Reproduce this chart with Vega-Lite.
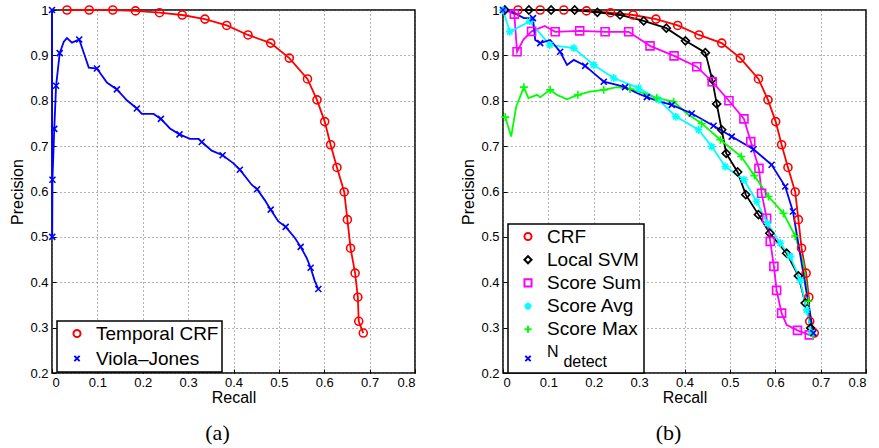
{
  "$schema": "https://vega.github.io/schema/vega-lite/v6.json",
  "background": "white",
  "padding": {"left": 9, "top": 2, "right": 5, "bottom": 5},
  "bounds": "flush",
  "spacing": 88,
  "config": {
    "font": "Liberation Sans",
    "view": {"stroke": "black", "strokeWidth": 1.5},
    "axis": {
      "labelFont": "Liberation Sans", "labelFontSize": 13, "labelColor": "black",
      "titleFont": "Liberation Sans", "titleFontSize": 16, "titleFontWeight": "normal", "titleColor": "black",
      "domain": false, "tickColor": "black", "tickSize": -4, "tickWidth": 1,
      "grid": true, "gridColor": "#666", "gridDash": [1, 3], "gridOpacity": 1, "gridWidth": 1,
      "labelPadding": 8, "titlePadding": 4
    },
    "axisX": {"titlePadding": 0, "labelPadding": 7},
    "legend": {
      "title": null, "strokeColor": "black", "fillColor": "white", "padding": 3,
      "labelFont": "Liberation Sans", "labelFontSize": 19, "labelColor": "black",
      "symbolSize": 50, "symbolStrokeWidth": 2, "labelOffset": 17, "rowPadding": 5
    },
    "title": {"font": "Liberation Serif", "fontSize": 22, "fontWeight": "normal", "color": "black", "orient": "bottom", "anchor": "middle", "dx": -16, "offset": 18}
  },
  "datasets": {
    "a": [
      {"s": "Temporal CRF", "x": 0.033, "y": 1.0, "m": 1},
      {"s": "Temporal CRF", "x": 0.082, "y": 1.0, "m": 1},
      {"s": "Temporal CRF", "x": 0.134, "y": 1.0, "m": 1},
      {"s": "Temporal CRF", "x": 0.184, "y": 0.998, "m": 1},
      {"s": "Temporal CRF", "x": 0.237, "y": 0.994, "m": 1},
      {"s": "Temporal CRF", "x": 0.287, "y": 0.989, "m": 1},
      {"s": "Temporal CRF", "x": 0.337, "y": 0.98, "m": 1},
      {"s": "Temporal CRF", "x": 0.385, "y": 0.966, "m": 1},
      {"s": "Temporal CRF", "x": 0.432, "y": 0.945, "m": 1},
      {"s": "Temporal CRF", "x": 0.482, "y": 0.927, "m": 1},
      {"s": "Temporal CRF", "x": 0.523, "y": 0.894, "m": 1},
      {"s": "Temporal CRF", "x": 0.563, "y": 0.848, "m": 1},
      {"s": "Temporal CRF", "x": 0.584, "y": 0.802, "m": 1},
      {"s": "Temporal CRF", "x": 0.601, "y": 0.754, "m": 1},
      {"s": "Temporal CRF", "x": 0.614, "y": 0.703, "m": 1},
      {"s": "Temporal CRF", "x": 0.628, "y": 0.653, "m": 1},
      {"s": "Temporal CRF", "x": 0.644, "y": 0.599, "m": 1},
      {"s": "Temporal CRF", "x": 0.651, "y": 0.538, "m": 1},
      {"s": "Temporal CRF", "x": 0.658, "y": 0.475, "m": 1},
      {"s": "Temporal CRF", "x": 0.668, "y": 0.42, "m": 1},
      {"s": "Temporal CRF", "x": 0.674, "y": 0.367, "m": 1},
      {"s": "Temporal CRF", "x": 0.676, "y": 0.314, "m": 1},
      {"s": "Temporal CRF", "x": 0.686, "y": 0.288, "m": 1},
      {"s": "Viola–Jones", "x": 0.0, "y": 1.0, "m": 1},
      {"s": "Viola–Jones", "x": 0.0005, "y": 0.5, "m": 1},
      {"s": "Viola–Jones", "x": 0.001, "y": 0.626, "m": 1},
      {"s": "Viola–Jones", "x": 0.005, "y": 0.738, "m": 1},
      {"s": "Viola–Jones", "x": 0.009, "y": 0.833, "m": 1},
      {"s": "Viola–Jones", "x": 0.017, "y": 0.905, "m": 1},
      {"s": "Viola–Jones", "x": 0.026, "y": 0.93, "m": 0},
      {"s": "Viola–Jones", "x": 0.033, "y": 0.938, "m": 0},
      {"s": "Viola–Jones", "x": 0.044, "y": 0.928, "m": 0},
      {"s": "Viola–Jones", "x": 0.06, "y": 0.935, "m": 1},
      {"s": "Viola–Jones", "x": 0.073, "y": 0.897, "m": 0},
      {"s": "Viola–Jones", "x": 0.081, "y": 0.873, "m": 0},
      {"s": "Viola–Jones", "x": 0.099, "y": 0.871, "m": 1},
      {"s": "Viola–Jones", "x": 0.121, "y": 0.84, "m": 0},
      {"s": "Viola–Jones", "x": 0.143, "y": 0.825, "m": 1},
      {"s": "Viola–Jones", "x": 0.165, "y": 0.801, "m": 0},
      {"s": "Viola–Jones", "x": 0.187, "y": 0.783, "m": 1},
      {"s": "Viola–Jones", "x": 0.198, "y": 0.771, "m": 0},
      {"s": "Viola–Jones", "x": 0.224, "y": 0.771, "m": 0},
      {"s": "Viola–Jones", "x": 0.24, "y": 0.76, "m": 1},
      {"s": "Viola–Jones", "x": 0.26, "y": 0.739, "m": 0},
      {"s": "Viola–Jones", "x": 0.281, "y": 0.726, "m": 1},
      {"s": "Viola–Jones", "x": 0.304, "y": 0.716, "m": 0},
      {"s": "Viola–Jones", "x": 0.323, "y": 0.716, "m": 0},
      {"s": "Viola–Jones", "x": 0.33, "y": 0.709, "m": 1},
      {"s": "Viola–Jones", "x": 0.352, "y": 0.69, "m": 0},
      {"s": "Viola–Jones", "x": 0.376, "y": 0.68, "m": 1},
      {"s": "Viola–Jones", "x": 0.4, "y": 0.662, "m": 0},
      {"s": "Viola–Jones", "x": 0.414, "y": 0.648, "m": 1},
      {"s": "Viola–Jones", "x": 0.44, "y": 0.615, "m": 0},
      {"s": "Viola–Jones", "x": 0.452, "y": 0.605, "m": 1},
      {"s": "Viola–Jones", "x": 0.469, "y": 0.581, "m": 0},
      {"s": "Viola–Jones", "x": 0.482, "y": 0.56, "m": 1},
      {"s": "Viola–Jones", "x": 0.499, "y": 0.534, "m": 0},
      {"s": "Viola–Jones", "x": 0.515, "y": 0.522, "m": 1},
      {"s": "Viola–Jones", "x": 0.535, "y": 0.498, "m": 0},
      {"s": "Viola–Jones", "x": 0.548, "y": 0.478, "m": 1},
      {"s": "Viola–Jones", "x": 0.561, "y": 0.454, "m": 0},
      {"s": "Viola–Jones", "x": 0.57, "y": 0.432, "m": 1},
      {"s": "Viola–Jones", "x": 0.579, "y": 0.403, "m": 0},
      {"s": "Viola–Jones", "x": 0.587, "y": 0.385, "m": 1}
    ],
    "b": [
      {"s": "CRF", "x": 0.033, "y": 1.0, "m": 1},
      {"s": "CRF", "x": 0.082, "y": 1.0, "m": 1},
      {"s": "CRF", "x": 0.134, "y": 1.0, "m": 1},
      {"s": "CRF", "x": 0.184, "y": 0.998, "m": 1},
      {"s": "CRF", "x": 0.237, "y": 0.994, "m": 1},
      {"s": "CRF", "x": 0.287, "y": 0.989, "m": 1},
      {"s": "CRF", "x": 0.337, "y": 0.98, "m": 1},
      {"s": "CRF", "x": 0.385, "y": 0.966, "m": 1},
      {"s": "CRF", "x": 0.432, "y": 0.945, "m": 1},
      {"s": "CRF", "x": 0.482, "y": 0.927, "m": 1},
      {"s": "CRF", "x": 0.523, "y": 0.894, "m": 1},
      {"s": "CRF", "x": 0.563, "y": 0.848, "m": 1},
      {"s": "CRF", "x": 0.584, "y": 0.802, "m": 1},
      {"s": "CRF", "x": 0.601, "y": 0.754, "m": 1},
      {"s": "CRF", "x": 0.614, "y": 0.703, "m": 1},
      {"s": "CRF", "x": 0.628, "y": 0.653, "m": 1},
      {"s": "CRF", "x": 0.644, "y": 0.599, "m": 1},
      {"s": "CRF", "x": 0.651, "y": 0.538, "m": 1},
      {"s": "CRF", "x": 0.658, "y": 0.475, "m": 1},
      {"s": "CRF", "x": 0.668, "y": 0.42, "m": 1},
      {"s": "CRF", "x": 0.674, "y": 0.367, "m": 1},
      {"s": "CRF", "x": 0.676, "y": 0.314, "m": 1},
      {"s": "CRF", "x": 0.686, "y": 0.288, "m": 1},
      {"s": "Local SVM", "x": 0.004, "y": 1.0, "m": 1},
      {"s": "Local SVM", "x": 0.057, "y": 1.0, "m": 1},
      {"s": "Local SVM", "x": 0.106, "y": 1.0, "m": 1},
      {"s": "Local SVM", "x": 0.158, "y": 1.0, "m": 1},
      {"s": "Local SVM", "x": 0.208, "y": 0.995, "m": 1},
      {"s": "Local SVM", "x": 0.258, "y": 0.989, "m": 1},
      {"s": "Local SVM", "x": 0.31, "y": 0.976, "m": 1},
      {"s": "Local SVM", "x": 0.36, "y": 0.96, "m": 1},
      {"s": "Local SVM", "x": 0.402, "y": 0.932, "m": 1},
      {"s": "Local SVM", "x": 0.446, "y": 0.906, "m": 1},
      {"s": "Local SVM", "x": 0.461, "y": 0.847, "m": 1},
      {"s": "Local SVM", "x": 0.471, "y": 0.793, "m": 1},
      {"s": "Local SVM", "x": 0.482, "y": 0.736, "m": 1},
      {"s": "Local SVM", "x": 0.492, "y": 0.684, "m": 1},
      {"s": "Local SVM", "x": 0.517, "y": 0.643, "m": 1},
      {"s": "Local SVM", "x": 0.535, "y": 0.593, "m": 1},
      {"s": "Local SVM", "x": 0.563, "y": 0.549, "m": 1},
      {"s": "Local SVM", "x": 0.588, "y": 0.508, "m": 1},
      {"s": "Local SVM", "x": 0.625, "y": 0.464, "m": 1},
      {"s": "Local SVM", "x": 0.651, "y": 0.414, "m": 1},
      {"s": "Local SVM", "x": 0.666, "y": 0.354, "m": 1},
      {"s": "Local SVM", "x": 0.678, "y": 0.299, "m": 1},
      {"s": "Local SVM", "x": 0.684, "y": 0.284, "m": 0},
      {"s": "Score Sum", "x": 0.004, "y": 1.0, "m": 0},
      {"s": "Score Sum", "x": 0.025, "y": 0.991, "m": 1},
      {"s": "Score Sum", "x": 0.031, "y": 0.908, "m": 1},
      {"s": "Score Sum", "x": 0.045, "y": 0.935, "m": 0},
      {"s": "Score Sum", "x": 0.063, "y": 0.953, "m": 1},
      {"s": "Score Sum", "x": 0.092, "y": 0.965, "m": 0},
      {"s": "Score Sum", "x": 0.115, "y": 0.952, "m": 1},
      {"s": "Score Sum", "x": 0.169, "y": 0.954, "m": 1},
      {"s": "Score Sum", "x": 0.225, "y": 0.952, "m": 1},
      {"s": "Score Sum", "x": 0.277, "y": 0.952, "m": 1},
      {"s": "Score Sum", "x": 0.324, "y": 0.921, "m": 1},
      {"s": "Score Sum", "x": 0.377, "y": 0.899, "m": 1},
      {"s": "Score Sum", "x": 0.427, "y": 0.875, "m": 1},
      {"s": "Score Sum", "x": 0.461, "y": 0.842, "m": 1},
      {"s": "Score Sum", "x": 0.498, "y": 0.8, "m": 1},
      {"s": "Score Sum", "x": 0.531, "y": 0.76, "m": 1},
      {"s": "Score Sum", "x": 0.546, "y": 0.71, "m": 1},
      {"s": "Score Sum", "x": 0.564, "y": 0.651, "m": 1},
      {"s": "Score Sum", "x": 0.57, "y": 0.596, "m": 1},
      {"s": "Score Sum", "x": 0.581, "y": 0.541, "m": 1},
      {"s": "Score Sum", "x": 0.589, "y": 0.49, "m": 1},
      {"s": "Score Sum", "x": 0.597, "y": 0.435, "m": 1},
      {"s": "Score Sum", "x": 0.603, "y": 0.382, "m": 1},
      {"s": "Score Sum", "x": 0.614, "y": 0.332, "m": 1},
      {"s": "Score Sum", "x": 0.625, "y": 0.306, "m": 0},
      {"s": "Score Sum", "x": 0.649, "y": 0.294, "m": 1},
      {"s": "Score Sum", "x": 0.675, "y": 0.284, "m": 1},
      {"s": "Score Avg", "x": 0.0, "y": 1.0, "m": 1},
      {"s": "Score Avg", "x": 0.015, "y": 0.952, "m": 1},
      {"s": "Score Avg", "x": 0.059, "y": 0.975, "m": 1},
      {"s": "Score Avg", "x": 0.103, "y": 0.923, "m": 1},
      {"s": "Score Avg", "x": 0.156, "y": 0.916, "m": 1},
      {"s": "Score Avg", "x": 0.2, "y": 0.879, "m": 1},
      {"s": "Score Avg", "x": 0.244, "y": 0.85, "m": 1},
      {"s": "Score Avg", "x": 0.299, "y": 0.828, "m": 1},
      {"s": "Score Avg", "x": 0.343, "y": 0.802, "m": 1},
      {"s": "Score Avg", "x": 0.381, "y": 0.765, "m": 1},
      {"s": "Score Avg", "x": 0.431, "y": 0.736, "m": 1},
      {"s": "Score Avg", "x": 0.46, "y": 0.699, "m": 1},
      {"s": "Score Avg", "x": 0.49, "y": 0.655, "m": 1},
      {"s": "Score Avg", "x": 0.531, "y": 0.626, "m": 1},
      {"s": "Score Avg", "x": 0.559, "y": 0.578, "m": 1},
      {"s": "Score Avg", "x": 0.583, "y": 0.53, "m": 1},
      {"s": "Score Avg", "x": 0.611, "y": 0.486, "m": 1},
      {"s": "Score Avg", "x": 0.633, "y": 0.457, "m": 1},
      {"s": "Score Avg", "x": 0.655, "y": 0.405, "m": 1},
      {"s": "Score Avg", "x": 0.669, "y": 0.339, "m": 1},
      {"s": "Score Avg", "x": 0.68, "y": 0.288, "m": 1},
      {"s": "Score Max", "x": 0.005, "y": 0.764, "m": 1},
      {"s": "Score Max", "x": 0.018, "y": 0.721, "m": 0},
      {"s": "Score Max", "x": 0.029, "y": 0.787, "m": 0},
      {"s": "Score Max", "x": 0.046, "y": 0.83, "m": 1},
      {"s": "Score Max", "x": 0.056, "y": 0.806, "m": 0},
      {"s": "Score Max", "x": 0.075, "y": 0.813, "m": 0},
      {"s": "Score Max", "x": 0.082, "y": 0.808, "m": 0},
      {"s": "Score Max", "x": 0.104, "y": 0.824, "m": 1},
      {"s": "Score Max", "x": 0.119, "y": 0.813, "m": 0},
      {"s": "Score Max", "x": 0.141, "y": 0.803, "m": 0},
      {"s": "Score Max", "x": 0.165, "y": 0.813, "m": 1},
      {"s": "Score Max", "x": 0.192, "y": 0.82, "m": 0},
      {"s": "Score Max", "x": 0.222, "y": 0.824, "m": 1},
      {"s": "Score Max", "x": 0.251, "y": 0.83, "m": 0},
      {"s": "Score Max", "x": 0.28, "y": 0.826, "m": 1},
      {"s": "Score Max", "x": 0.31, "y": 0.817, "m": 0},
      {"s": "Score Max", "x": 0.339, "y": 0.806, "m": 1},
      {"s": "Score Max", "x": 0.376, "y": 0.798, "m": 1},
      {"s": "Score Max", "x": 0.405, "y": 0.772, "m": 0},
      {"s": "Score Max", "x": 0.438, "y": 0.75, "m": 1},
      {"s": "Score Max", "x": 0.479, "y": 0.714, "m": 1},
      {"s": "Score Max", "x": 0.525, "y": 0.677, "m": 1},
      {"s": "Score Max", "x": 0.554, "y": 0.635, "m": 1},
      {"s": "Score Max", "x": 0.585, "y": 0.589, "m": 1},
      {"s": "Score Max", "x": 0.618, "y": 0.552, "m": 1},
      {"s": "Score Max", "x": 0.644, "y": 0.502, "m": 1},
      {"s": "Score Max", "x": 0.662, "y": 0.442, "m": 0},
      {"s": "Score Max", "x": 0.673, "y": 0.358, "m": 1},
      {"s": "Score Max", "x": 0.683, "y": 0.284, "m": 1},
      {"s": "Ndetect", "x": 0.0, "y": 1.0, "m": 1},
      {"s": "Ndetect", "x": 0.012, "y": 1.0, "m": 0},
      {"s": "Ndetect", "x": 0.046, "y": 0.982, "m": 0},
      {"s": "Ndetect", "x": 0.066, "y": 0.982, "m": 1},
      {"s": "Ndetect", "x": 0.071, "y": 0.934, "m": 0},
      {"s": "Ndetect", "x": 0.082, "y": 0.927, "m": 1},
      {"s": "Ndetect", "x": 0.104, "y": 0.934, "m": 0},
      {"s": "Ndetect", "x": 0.126, "y": 0.908, "m": 1},
      {"s": "Ndetect", "x": 0.141, "y": 0.879, "m": 0},
      {"s": "Ndetect", "x": 0.156, "y": 0.89, "m": 0},
      {"s": "Ndetect", "x": 0.181, "y": 0.877, "m": 1},
      {"s": "Ndetect", "x": 0.2, "y": 0.861, "m": 0},
      {"s": "Ndetect", "x": 0.222, "y": 0.842, "m": 1},
      {"s": "Ndetect", "x": 0.251, "y": 0.835, "m": 0},
      {"s": "Ndetect", "x": 0.269, "y": 0.83, "m": 1},
      {"s": "Ndetect", "x": 0.295, "y": 0.817, "m": 0},
      {"s": "Ndetect", "x": 0.317, "y": 0.808, "m": 1},
      {"s": "Ndetect", "x": 0.346, "y": 0.798, "m": 0},
      {"s": "Ndetect", "x": 0.372, "y": 0.791, "m": 1},
      {"s": "Ndetect", "x": 0.416, "y": 0.772, "m": 1},
      {"s": "Ndetect", "x": 0.464, "y": 0.745, "m": 1},
      {"s": "Ndetect", "x": 0.504, "y": 0.721, "m": 1},
      {"s": "Ndetect", "x": 0.552, "y": 0.693, "m": 1},
      {"s": "Ndetect", "x": 0.592, "y": 0.659, "m": 1},
      {"s": "Ndetect", "x": 0.622, "y": 0.611, "m": 1},
      {"s": "Ndetect", "x": 0.639, "y": 0.556, "m": 1},
      {"s": "Ndetect", "x": 0.684, "y": 0.288, "m": 1}
    ]
  },
  "resolve": {"scale": {"color": "independent", "shape": "independent"}},
  "hconcat": [
    {
      "width": 363, "height": 363,
      "title": {"text": "(a)"},
      "data": {"name": "a"},
      "encoding": {
        "x": {"field": "x", "type": "quantitative", "scale": {"domain": [0, 0.8], "nice": false, "zero": false},
              "axis": {"title": "Recall", "values": [0, 0.1, 0.2, 0.3, 0.4, 0.5, 0.6, 0.7, 0.8], "format": "~g"}},
        "y": {"field": "y", "type": "quantitative", "scale": {"domain": [0.2, 1], "nice": false, "zero": false},
              "axis": {"title": "Precision", "values": [0.2, 0.3, 0.4, 0.5, 0.6, 0.7, 0.8, 0.9, 1], "format": "~g"}},
        "color": {"field": "s", "type": "nominal",
                  "scale": {"domain": ["Temporal CRF", "Viola–Jones"], "range": ["#ff0000", "#0000ff"]},
                  "legend": {"orient": "none", "legendX": 5, "legendY": 311,
                             "encode": {"legend": {"update": {"strokeWidth": {"value": 1.5}}},
                                        "symbols": {"update": {"x": {"value": 17}}}}}}
      },
      "layer": [
        {"mark": {"type": "line", "strokeWidth": 1.8}, "encoding": {"order": {"value": null}}},
        {"transform": [{"filter": "datum.m == 1"}],
         "mark": {"type": "point", "filled": false, "size": 64, "strokeWidth": 1.6, "opacity": 1},
         "encoding": {"shape": {"field": "s", "type": "nominal",
                     "scale": {"domain": ["Temporal CRF", "Viola–Jones"], "range": ["circle", "M-0.75,-0.75L0.75,0.75M-0.75,0.75L0.75,-0.75"]},
                     "legend": {"orient": "none", "legendX": 5, "legendY": 311,
                                "encode": {"legend": {"update": {"strokeWidth": {"value": 1.5}}},
                                           "symbols": {"update": {"x": {"value": 17}}}}}}}}
      ]
    },
    {
      "width": 363, "height": 363,
      "title": {"text": "(b)"},
      "data": {"name": "b"},
      "encoding": {
        "x": {"field": "x", "type": "quantitative", "scale": {"domain": [0, 0.8], "nice": false, "zero": false},
              "axis": {"title": "Recall", "values": [0, 0.1, 0.2, 0.3, 0.4, 0.5, 0.6, 0.7, 0.8], "format": "~g"}},
        "y": {"field": "y", "type": "quantitative", "scale": {"domain": [0.2, 1], "nice": false, "zero": false},
              "axis": {"title": "Precision", "values": [0.2, 0.3, 0.4, 0.5, 0.6, 0.7, 0.8, 0.9, 1], "format": "~g"}},
        "color": {"field": "s", "type": "nominal",
                  "scale": {"domain": ["CRF", "Local SVM", "Score Sum", "Score Avg", "Score Max", "Ndetect"],
                            "range": ["#ff0000", "#000000", "#ff00ff", "#00ffff", "#00ff00", "#0000ff"]},
                  "legend": {"orient": "none", "legendX": 5, "legendY": 214, "rowPadding": 3.2,
                             "labelExpr": "datum.label == 'Ndetect' ? ['N', '\u2800\u00a0detect'] : datum.label",
                             "encode": {"legend": {"update": {"strokeWidth": {"value": 1.5}}},
                                        "symbols": {"update": {"x": {"value": 17}}},
                                        "labels": {"update": {"fontSize": {"signal": "datum.label == 'Ndetect' ? 16 : 19"}, "lineHeight": {"value": 10}, "dy": {"signal": "datum.label == 'Ndetect' ? -7 : 0"}}}}}}
      },
      "layer": [
        {"mark": {"type": "line", "strokeWidth": 1.8}, "encoding": {"order": {"value": null}}},
        {"transform": [{"filter": "datum.m == 1"}],
         "mark": {"type": "point", "filled": false, "size": 64, "strokeWidth": 1.6, "opacity": 1},
         "encoding": {"shape": {"field": "s", "type": "nominal",
                     "scale": {"domain": ["CRF", "Local SVM", "Score Sum", "Score Avg", "Score Max", "Ndetect"],
                               "range": ["circle", "diamond", "square", "M0,-1L0,1M-1,0L1,0M-0.7,-0.7L0.7,0.7M-0.7,0.7L0.7,-0.7", "M0,-1L0,1M-1,0L1,0", "M-0.75,-0.75L0.75,0.75M-0.75,0.75L0.75,-0.75"]},
                     "legend": {"orient": "none", "legendX": 5, "legendY": 214, "rowPadding": 3.2,
                                "labelExpr": "datum.label == 'Ndetect' ? ['N', '\u2800\u00a0detect'] : datum.label",
                                "encode": {"legend": {"update": {"strokeWidth": {"value": 1.5}}},
                                           "symbols": {"update": {"x": {"value": 17}}},
                                           "labels": {"update": {"fontSize": {"signal": "datum.label == 'Ndetect' ? 16 : 19"}, "lineHeight": {"value": 10}, "dy": {"signal": "datum.label == 'Ndetect' ? -7 : 0"}}}}}}}}
      ]
    }
  ]
}
